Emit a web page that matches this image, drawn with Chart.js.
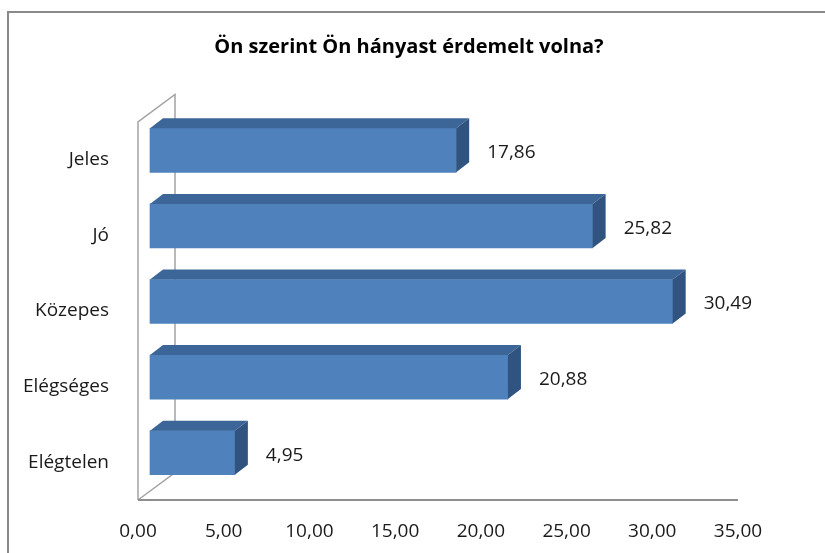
<!DOCTYPE html>
<html>
<head>
<meta charset="utf-8">
<title>Ön szerint Ön hányast érdemelt volna?</title>
<script src="https://cdn.jsdelivr.net/npm/chart.js@4.4.1/dist/chart.umd.min.js"></script>
<style>
    body { margin: 0; background: #fff; }
    canvas { display: block; }
</style>
</head>
<body>
<canvas id="gradeChart" width="825" height="553"></canvas>
<script>
const categories = ['Jeles', 'Jó', 'Közepes', 'Elégséges', 'Elégtelen'];
const percentages = [17.86, 25.82, 30.49, 20.88, 4.95];
const tickLabels = ['0,00', '5,00', '10,00', '15,00', '20,00', '25,00', '30,00', '35,00'];

const FONT = '"Open Sans", "DejaVu Sans", sans-serif';
const barFront = '#4f81bd';
const barTop = '#3d6698';
const barSide = '#30547f';

// depth of the walls and of the bars (3D look)
const wallDx = 37, wallDy = -27.5;
const barShiftX = 12, barShiftY = -9.5;
const barDx = 13, barDy = -10;

const threeD = {
    id: 'threeD',
    beforeDraw(chart) {
        const ctx = chart.ctx;
        // outer frame, only left and top edges are visible
        ctx.save();
        ctx.strokeStyle = '#8a8a8a';
        ctx.lineWidth = 2;
        ctx.beginPath();
        ctx.moveTo(8, 553);
        ctx.lineTo(8, 12);
        ctx.lineTo(825, 12);
        ctx.stroke();
        ctx.restore();
    },
    beforeDatasetsDraw(chart) {
        const ctx = chart.ctx;
        const { left, right, top, bottom } = chart.chartArea;
        ctx.save();
        ctx.strokeStyle = '#a3a3a3';
        ctx.lineWidth = 1.5;
        ctx.beginPath();
        ctx.moveTo(left, bottom);
        ctx.lineTo(left, top);
        ctx.lineTo(left + wallDx, top + wallDy);
        ctx.lineTo(left + wallDx, bottom + wallDy);
        ctx.lineTo(left, bottom);
        ctx.stroke();
        ctx.strokeStyle = '#8e8e8e';
        ctx.lineWidth = 2;
        ctx.beginPath();
        ctx.moveTo(left, bottom);
        ctx.lineTo(right, bottom);
        ctx.stroke();
        ctx.restore();

        // bars sit a bit inside the depth
        ctx.save();
        ctx.translate(barShiftX, barShiftY);
    },
    afterDatasetsDraw(chart) {
        const ctx = chart.ctx;
        const meta = chart.getDatasetMeta(0);
        meta.data.forEach((bar) => {
            const p = bar.getProps(['x', 'y', 'base', 'height'], true);
            const y0 = p.y - p.height / 2;
            const y1 = p.y + p.height / 2;
            // top face
            ctx.fillStyle = barTop;
            ctx.beginPath();
            ctx.moveTo(p.base, y0);
            ctx.lineTo(p.x, y0);
            ctx.lineTo(p.x + barDx, y0 + barDy);
            ctx.lineTo(p.base + barDx, y0 + barDy);
            ctx.closePath();
            ctx.fill();
            // right face
            ctx.fillStyle = barSide;
            ctx.beginPath();
            ctx.moveTo(p.x, y0);
            ctx.lineTo(p.x + barDx, y0 + barDy);
            ctx.lineTo(p.x + barDx, y1 + barDy);
            ctx.lineTo(p.x, y1);
            ctx.closePath();
            ctx.fill();
        });
        ctx.restore();

        // value labels
        ctx.save();
        ctx.font = '19px ' + FONT;
        ctx.fillStyle = '#1a1a1a';
        ctx.textAlign = 'left';
        ctx.textBaseline = 'middle';
        meta.data.forEach((bar, i) => {
            const p = bar.getProps(['x', 'y'], true);
            ctx.fillText(percentages[i].toFixed(2).replace('.', ','), p.x + 43, p.y - 7);
        });
        ctx.restore();
    }
};

const ctx = document.getElementById('gradeChart').getContext('2d');
const chart = new Chart(ctx, {
    type: 'bar',
    data: {
        labels: categories,
        datasets: [
            {
                data: percentages,
                backgroundColor: barFront,
                borderWidth: 0,
                barThickness: 44,
                clip: false,
            },
        ],
    },
    options: {
        indexAxis: 'y',
        responsive: false,
        devicePixelRatio: 1,
        animation: false,
        layout: {
            padding: { left: 0, right: 7, top: 0, bottom: 0 },
        },
        scales: {
            x: {
                min: 0,
                max: 35,
                grid: { display: false },
                border: { display: false },
                ticks: {
                    stepSize: 5,
                    padding: 12,
                    color: '#1a1a1a',
                    font: { family: FONT, size: 19 },
                    maxRotation: 0,
                    callback: (value, index) => tickLabels[index],
                },
                afterFit: (scale) => { scale.height = 53; },
            },
            y: {
                grid: { display: false },
                border: { display: false },
                ticks: {
                    padding: 21,
                    color: '#1a1a1a',
                    font: { family: FONT, size: 19 },
                },
                afterFit: (scale) => { scale.width = 138; },
            },
            // empty right-hand axis, only keeps room on the right side
            yRight: {
                position: 'right',
                grid: { display: false },
                border: { display: false },
                ticks: { display: false },
                afterFit: (scale) => { scale.width = 80; },
            },
        },
        plugins: {
            legend: { display: false },
            tooltip: { enabled: false },
            title: {
                display: true,
                text: 'Ön szerint Ön hányast érdemelt volna?',
                color: '#000',
                font: { family: FONT, size: 20, weight: 'bold' },
                padding: { top: 35, bottom: 63 },
            },
        },
    },
    plugins: [threeD],
});
</script>
</body>
</html>
